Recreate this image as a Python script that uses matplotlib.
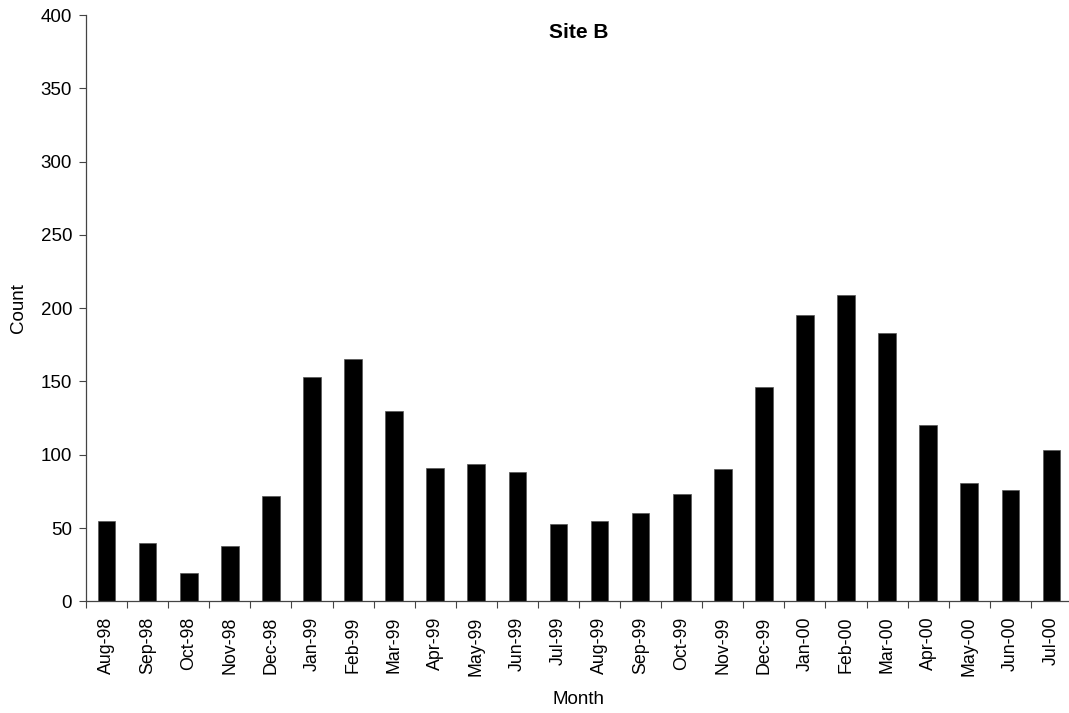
import numpy as np
import matplotlib.pyplot as plt

months = ['Aug-98', 'Sep-98', 'Oct-98', 'Nov-98', 'Dec-98', 'Jan-99', 'Feb-99', 'Mar-99',
          'Apr-99', 'May-99', 'Jun-99', 'Jul-99', 'Aug-99', 'Sep-99', 'Oct-99', 'Nov-99',
          'Dec-99', 'Jan-00', 'Feb-00', 'Mar-00', 'Apr-00', 'May-00', 'Jun-00', 'Jul-00']
counts = [55, 40, 19, 38, 72, 153, 165, 130,
          91, 94, 88, 53, 55, 60, 73, 90,
          146, 195, 209, 183, 120, 81, 76, 103]

plt.rcParams['font.family'] = ['Liberation Sans', 'DejaVu Sans']

fig = plt.figure(figsize=(10.69, 7.13), dpi=100)
ax = fig.add_axes([86 / 1069, 1 - 601.3 / 713, 986 / 1069, 586.3 / 713])

x = np.arange(len(months))
ax.bar(x, counts, width=0.43, color='black', edgecolor='#555555', linewidth=0.5)

ax.set_xlim(-0.5, len(months) - 0.5)
ax.set_ylim(0, 400)
ax.set_yticks(range(0, 401, 50))
ax.tick_params(axis='y', direction='out', length=5, width=0.8, labelsize=13.5, pad=5, color='#444444')

# ticks between categories, labels at centres
ax.set_xticks(np.arange(-0.5, len(months), 1.0))
ax.set_xticklabels([])
ax.set_xticks(x, minor=True)
ax.set_xticklabels(months, minor=True, rotation=90, fontsize=12.8)
ax.tick_params(axis='x', which='major', direction='out', length=5, width=0.8, color='#444444')
ax.tick_params(axis='x', which='minor', length=0, pad=11)

for s in ['top', 'right']:
    ax.spines[s].set_visible(False)
for s in ['left', 'bottom']:
    ax.spines[s].set_color('#444444')
    ax.spines[s].set_linewidth(0.9)

ax.text(0.5, 1 - 18 / 586.3, 'Site B', transform=ax.transAxes, ha='center', va='center',
        fontsize=15, fontweight='bold')
ax.set_ylabel('Count', fontsize=13.5, labelpad=10)
ax.set_xlabel('Month', fontsize=13.5, labelpad=11)

fig.savefig('out.png', dpi=100)
